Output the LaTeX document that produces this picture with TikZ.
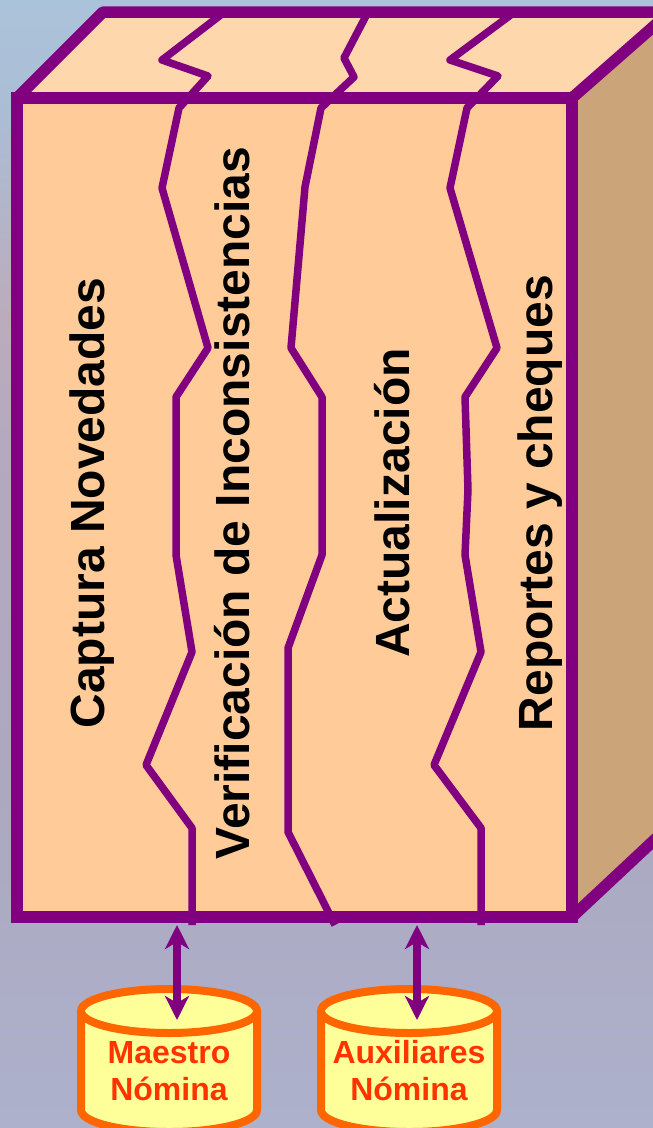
\documentclass[tikz,border=0pt]{standalone}
\usepackage{fontspec}
\setmainfont{Liberation Sans}
\usetikzlibrary{arrows.meta}
\definecolor{ink}{HTML}{800080}
\definecolor{front}{HTML}{FFCC99}
\definecolor{lid}{HTML}{FFD7AD}
\definecolor{flank}{HTML}{CCA47A}
\definecolor{drum}{HTML}{FFFF99}
\definecolor{rim}{HTML}{FF6600}
\definecolor{drumtext}{HTML}{FF3300}
\definecolor{skya}{HTML}{ADB1CC}
\definecolor{skyb}{HTML}{ACA8C0}
\definecolor{skyc}{HTML}{B4A9BF}
\definecolor{skyd}{HTML}{BBACBC}
\definecolor{skye}{HTML}{ABBDD5}
\definecolor{skyf}{HTML}{ABC3DA}
\pgfdeclareverticalshading{backdrop}{100bp}{
  color(0bp)=(skya);
  color(25bp)=(skya);
  color(40bp)=(skyb);
  color(55bp)=(skyc);
  color(61bp)=(skyd);
  color(70bp)=(skye);
  color(75bp)=(skyf);
  color(100bp)=(skyf)}
\tikzset{
  edge/.style={draw=ink,line width=11.5pt,line join=bevel},
  wiggle/.style={draw=ink,line width=7.5pt,line join=round},
  link/.style={draw=ink,line width=8pt,{Stealth[length=24pt,width=24pt,inset=7pt]}-{Stealth[length=24pt,width=24pt,inset=7pt]}},
  can/.style={draw=rim,fill=drum,line width=8pt},
  lane/.style={font=\fontsize{48}{50}\selectfont\bfseries,rotate=90,text=black,inner sep=0pt},
  canlabel/.style={font=\fontsize{32}{37}\selectfont\bfseries,align=center,text=drumtext,inner sep=0pt}
}
\begin{document}
\begin{tikzpicture}[x=1pt,y=-1pt]
  \useasboundingbox (0,0) rectangle (653,1128);
  \shade[shading=backdrop] (0,0) rectangle (653,1128);
  % box
  \fill[flank] (572,98) -- (665,12) -- (665,830) -- (572,917) -- cycle;
  \draw[edge,fill=lid] (17,98) -- (103,12) -- (670,12) -- (572,98) -- cycle;
  \draw[edge] (572,917) -- (665,830);
  \draw[edge,line join=miter,fill=front] (17,98) rectangle (572,917);
  % lanes
  \draw[wiggle] (222,14) -- (162,60) -- (208,76) -- (179,108) -- (162,188) -- (208,348) -- (176,397)
    -- (176,555) -- (192,652) -- (146,765) -- (192,828) -- (192,925);
  \draw[wiggle] (367,14) -- (344,58) -- (354,77) -- (321,108) -- (305,187) -- (291,348) -- (322,397)
    -- (322,555) -- (288,648) -- (288,832) -- (335,925);
  \draw[wiggle] (512,14) -- (450,60) -- (498,76) -- (467,108) -- (450,188) -- (497,348) -- (465,397)
    -- (468,490) -- (465,555) -- (481,652) -- (434,765) -- (481,828) -- (481,925);
  \node[lane] (captura) at (92,503) {Captura Novedades};
  \node[lane] (verifica) at (232,503) {Verificación de Inconsistencias};
  \node[lane] (actual) at (392,503) {Actualización};
  \node[lane] (reportes) at (540,503) {Reportes y cheques};
  % stores
  \draw[can] (81,1011) -- (81,1110) arc[start angle=180,end angle=360,x radius=88pt,y radius=22pt] -- (257,1011);
  \draw[can] (169,1011) ellipse [x radius=88pt,y radius=22pt];
  \draw[can] (321,1011) -- (321,1110) arc[start angle=180,end angle=360,x radius=88pt,y radius=22pt] -- (497,1011);
  \draw[can] (409,1011) ellipse [x radius=88pt,y radius=22pt];
  \node[canlabel] (maestro) at (169,1071) {Maestro\\Nómina};
  \node[canlabel] (auxiliar) at (409,1071) {Auxiliares\\Nómina};
  % links
  \coordinate (portA) at (177,925);
  \coordinate (canA) at (177,1020);
  \coordinate (portB) at (417,925);
  \coordinate (canB) at (417,1020);
  \draw[link] (portA) -- (canA);
  \draw[link] (portB) -- (canB);
\end{tikzpicture}
\end{document}
